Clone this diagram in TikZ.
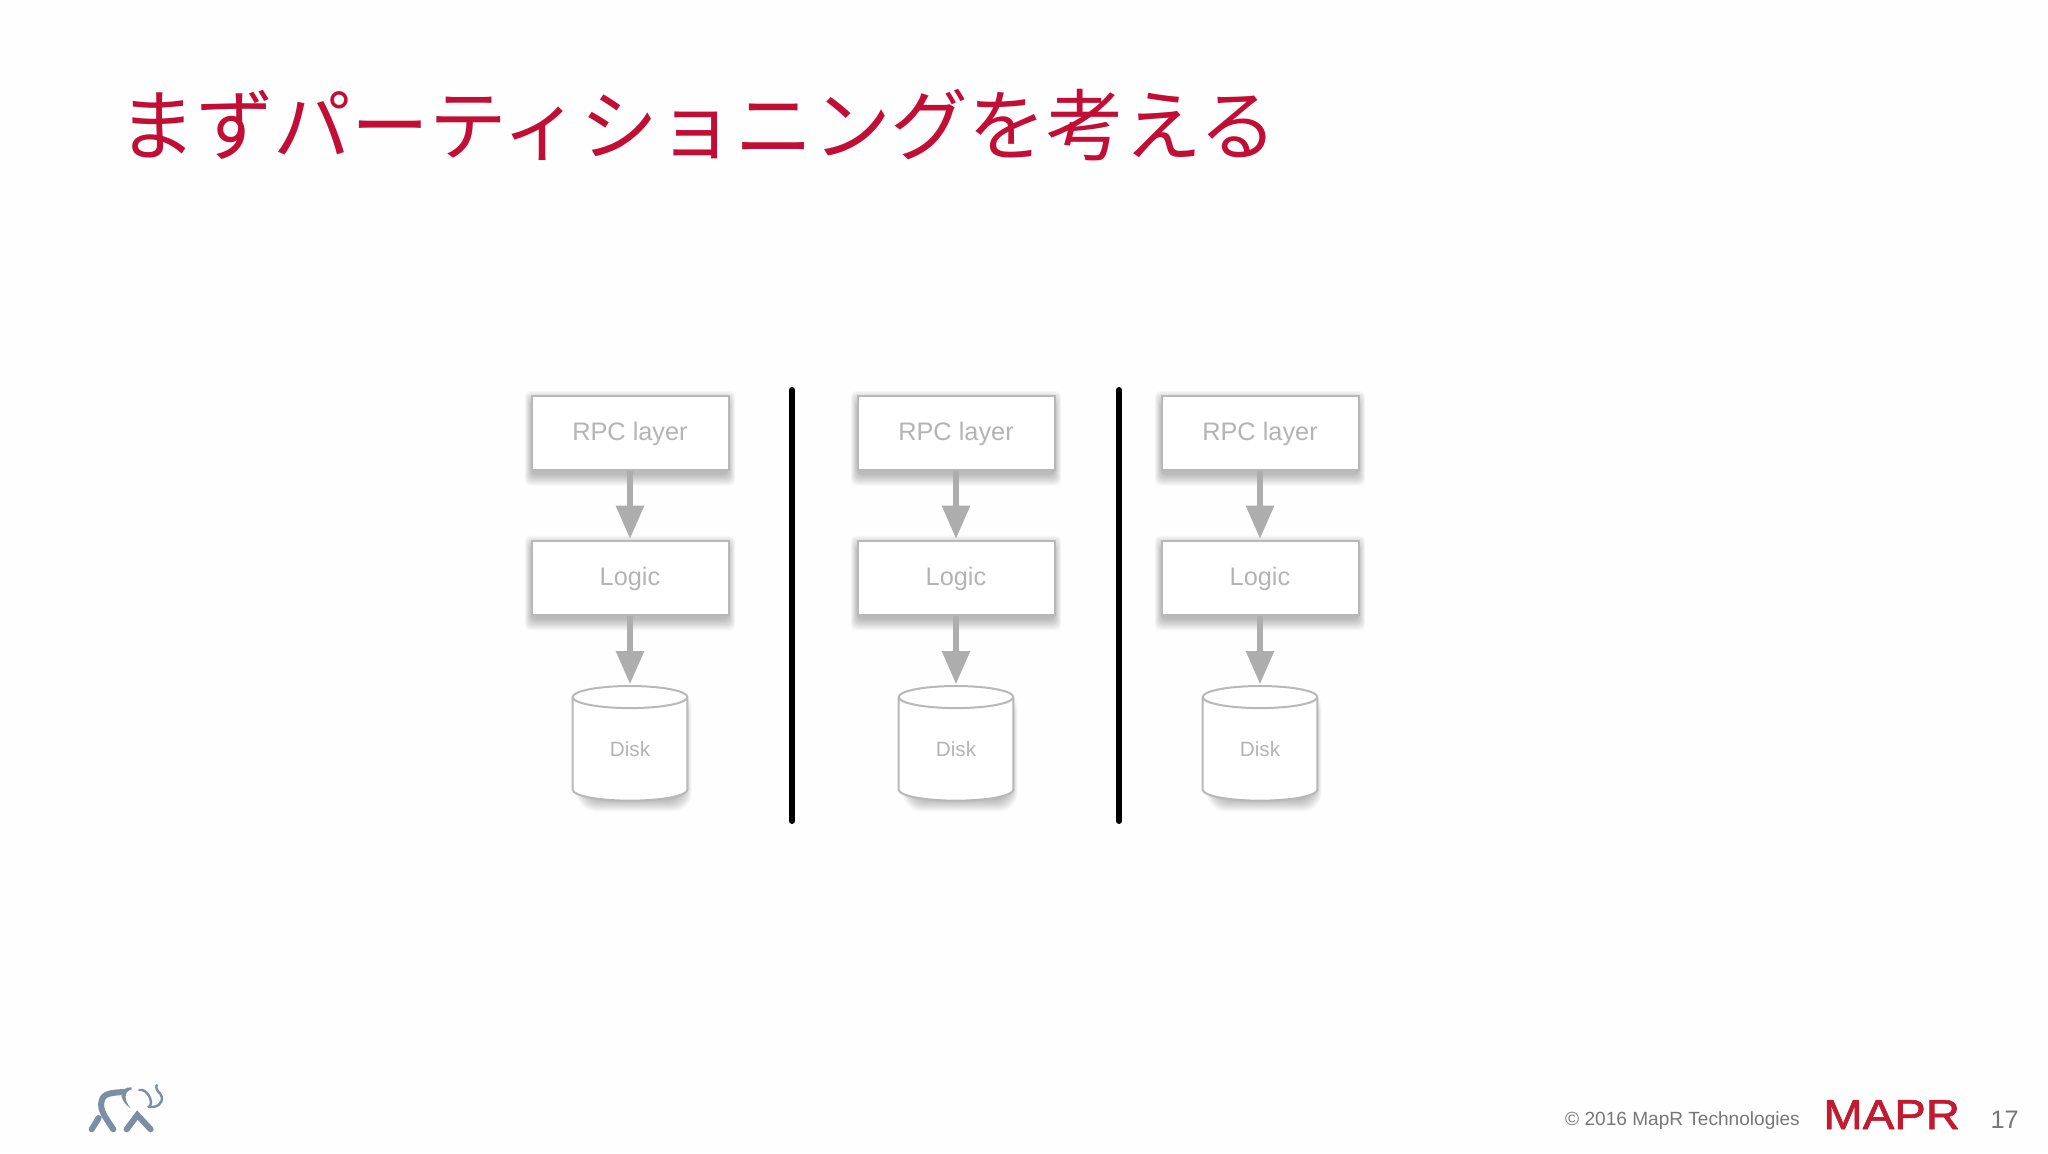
\documentclass[tikz,border=0pt]{standalone}
\usepackage{fontspec}
\setmainfont{Liberation Sans}
\newfontfamily\cjk{Noto Sans CJK JP}
\newfontfamily\logofont[FakeBold=1.6]{Liberation Sans}
\usetikzlibrary{positioning,arrows.meta,shapes.geometric,backgrounds,calc}
\definecolor{titlered}{HTML}{C20E35}
\definecolor{mapred}{HTML}{C01B30}
\definecolor{boxgray}{HTML}{B8B8B8}
\definecolor{textgray}{HTML}{B4B4B4}
\definecolor{arrowgray}{HTML}{ADADAD}
\definecolor{footgray}{HTML}{777777}
\definecolor{logoblue}{HTML}{7C8EA6}
\definecolor{pagewhite}{HTML}{FEFEFE}
\tikzset{
    layerbox/.style={
        draw=boxgray, line width=1.5pt, fill=white, text=textgray,
        minimum width=147.75pt, minimum height=55.5pt, inner sep=0pt, text height=14pt, text depth=3pt,
        font=\fontsize{19pt}{22pt}\selectfont
    },
    diskbox/.style={
        shape=cylinder, shape border rotate=90, aspect=.55, fill=white, draw=boxgray, line width=1.5pt,
        text=textgray, minimum width=86pt, minimum height=86pt, inner sep=0pt,
        font=\fontsize{15.5pt}{18pt}\selectfont
    },
    flow/.style={
        draw=arrowgray, line width=5pt, shorten >=0.5pt,
        -{Triangle[width=20pt,length=25pt]}
    },
    divider/.style={line width=4.5pt, line cap=round, black},
    shadowlayer/.style={fill=black, opacity=.03},
    node distance=51.5pt and 0pt
}
% one soft shadow: node name, corner radius
\newcommand{\softshadow}[2]{
    \foreach \spread in {7,6,5,4,3,2,1,0,-1} {
        \fill[shadowlayer, rounded corners=#2]
            ($(#1.south west)+(-0.6*\spread pt,-\spread pt-4pt)$) rectangle ($(#1.north east)+(0.6*\spread pt,\spread pt-4pt)$);
    }
}
\begin{document}
\begin{tikzpicture}[x=0.75pt, y=-0.75pt]
    \useasboundingbox (0,0) rectangle (2048,1153);
    \node[anchor=base west, text=titlered, inner sep=0pt, font=\fontsize{58.3pt}{64pt}\selectfont\cjk] (title) at (118,154) {まずパーティショニングを考える};

    % column one
    \node[layerbox] (rpc1) at (630,433) {RPC layer};
    \node[layerbox, below=of rpc1] (logic1) {Logic};
    \node[diskbox, below=52pt of logic1] (disk1) {Disk};
    \draw[flow] (rpc1) -- (logic1);
    \draw[flow] (logic1) -- (disk1);

    % column two
    \node[layerbox] (rpc2) at (956,433) {RPC layer};
    \node[layerbox, below=of rpc2] (logic2) {Logic};
    \node[diskbox, below=52pt of logic2] (disk2) {Disk};
    \draw[flow] (rpc2) -- (logic2);
    \draw[flow] (logic2) -- (disk2);

    % column three
    \node[layerbox] (rpc3) at (1260,433) {RPC layer};
    \node[layerbox, below=of rpc3] (logic3) {Logic};
    \node[diskbox, below=52pt of logic3] (disk3) {Disk};
    \draw[flow] (rpc3) -- (logic3);
    \draw[flow] (logic3) -- (disk3);

    % page colour and shadows go behind everything
    \begin{scope}[on background layer]
        \fill[pagewhite] (0,0) rectangle (2048,1153);
        \foreach \boxname in {rpc1,logic1,rpc2,logic2,rpc3,logic3} {
            \softshadow{\boxname}{4pt}
        }
        \foreach \diskname in {disk1,disk2,disk3} {
            \softshadow{\diskname}{14pt}
        }
    \end{scope}

    % dividers
    \coordinate (sep1top) at (792,390);
    \coordinate (sep1bot) at (792,821);
    \coordinate (sep2top) at (1119,390);
    \coordinate (sep2bot) at (1119,821);
    \draw[divider] (sep1top) -- (sep1bot);
    \draw[divider] (sep2top) -- (sep2bot);

    % footer
    \node[anchor=base east, text=footgray, inner sep=0pt, font=\fontsize{14.3pt}{17pt}\selectfont] (copyright) at (1800,1125) {© 2016 MapR Technologies};
    \node[anchor=base west, text=mapred, inner sep=0pt, font=\logofont\fontsize{31.4pt}{34pt}\selectfont, xscale=1.13] (maprlogo) at (1823,1129) {MAPR};
    \node[anchor=base east, text=footgray, inner sep=0pt, font=\fontsize{19pt}{24pt}\selectfont] (pagenum) at (2019,1128) {17};

    % elephant
    \begin{scope}[shift={(60,1060)}, x=0.25pt, y=-0.25pt, logoblue, line cap=round]
        \draw[line width=4.5pt] (160,208) .. controls (135,170) and (118,150) .. (125,122) .. controls (130,100) and (155,98) .. (190,96);
        \fill (215,82) .. controls (180,80) and (170,115) .. (212,145) .. controls (192,120) and (190,95) .. (215,88) -- cycle;
        \draw[line width=1.8pt] (238,90) .. controls (262,85) and (280,125) .. (270,137);
        \draw[line width=1.8pt] (265,140) .. controls (290,145) and (310,130) .. (305,110) .. controls (302,95) and (285,95) .. (290,75);
        \draw[line width=4.5pt] (95,208) -- (116,174);
        \draw[line width=4.5pt] (200,208) -- (232,165) -- (272,208);
    \end{scope}
\end{tikzpicture}
\end{document}
